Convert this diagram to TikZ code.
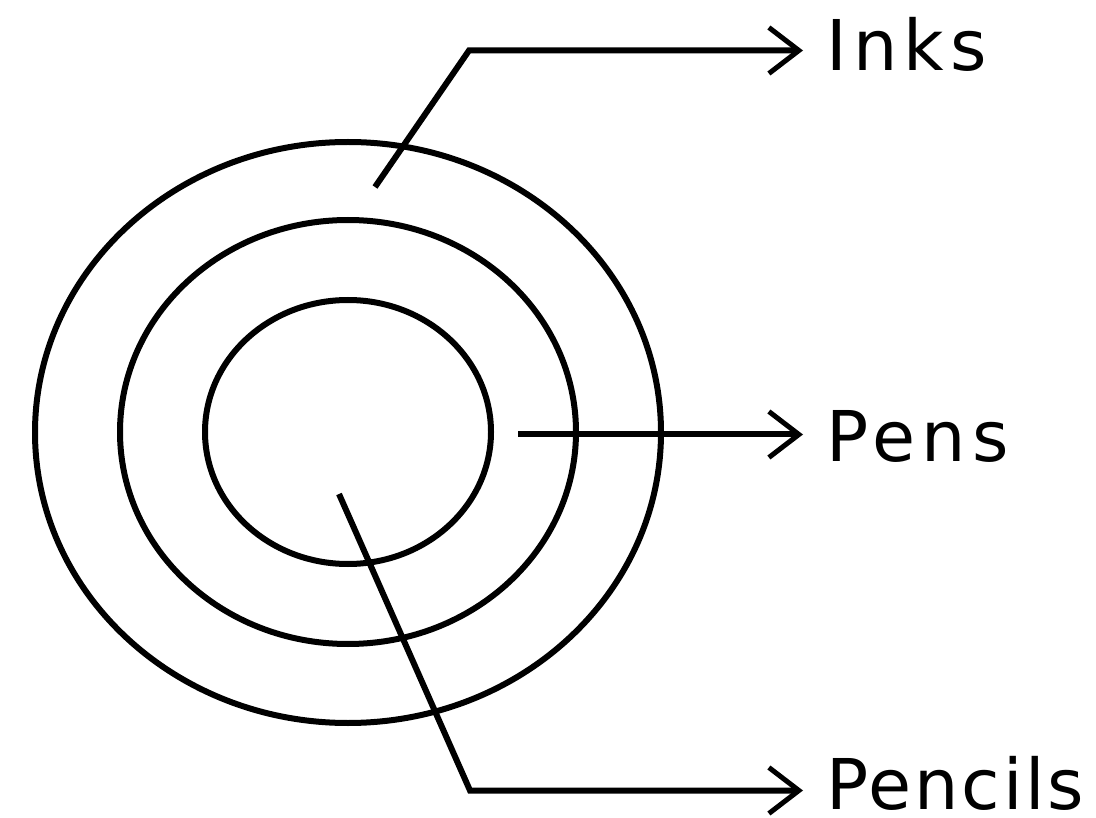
\documentclass[tikz,border=0pt]{standalone}
\usepackage{fontspec}
\setmainfont{DejaVu Sans}
\usetikzlibrary{arrows.meta}
\tikzset{
  ring/.style={line width=6pt},
  leader/.style={line width=6pt, -{Straight Barb[length=30pt, width=46pt, line width=5pt]}},
  lbl/.style={anchor=base west, inner sep=0pt, font=\fontsize{70}{84}\selectfont\addfontfeature{LetterSpace=9}},
  lbltight/.style={anchor=base west, inner sep=0pt, font=\fontsize{70}{84}\selectfont\addfontfeature{LetterSpace=4}}
}
\begin{document}
\begin{tikzpicture}[x=1pt,y=-1pt]
\useasboundingbox (0,0) rectangle (1096,818);
\fill[white] (0,0) rectangle (1096,818);
% rings
\draw[ring] (348,432.5) ellipse [x radius=313pt, y radius=290.5pt];
\draw[ring] (348,432) ellipse [x radius=228pt, y radius=212pt];
\draw[ring] (348,432) ellipse [x radius=143pt, y radius=132pt];
% labels
\node[lbl] (inks) at (826,71) {Inks};
\node[lbl] (pens) at (826,461) {Pens};
\node[lbltight] (pencils) at (826,809) {Pencils};
% connector points
\coordinate (inksStart) at (375,187);
\coordinate (inksBend) at (469,50.5);
\coordinate (inksTip) at (803,50.5);
\coordinate (pensStart) at (518,434.5);
\coordinate (pensTip) at (803,434.5);
\coordinate (pencilsStart) at (339,494);
\coordinate (pencilsBend) at (470,790.5);
\coordinate (pencilsTip) at (803,790.5);
% connectors
\draw[leader] (inksStart) -- (inksBend) -- (inksTip);
\draw[leader] (pensStart) -- (pensTip);
\draw[leader] (pencilsStart) -- (pencilsBend) -- (pencilsTip);
\end{tikzpicture}
\end{document}
